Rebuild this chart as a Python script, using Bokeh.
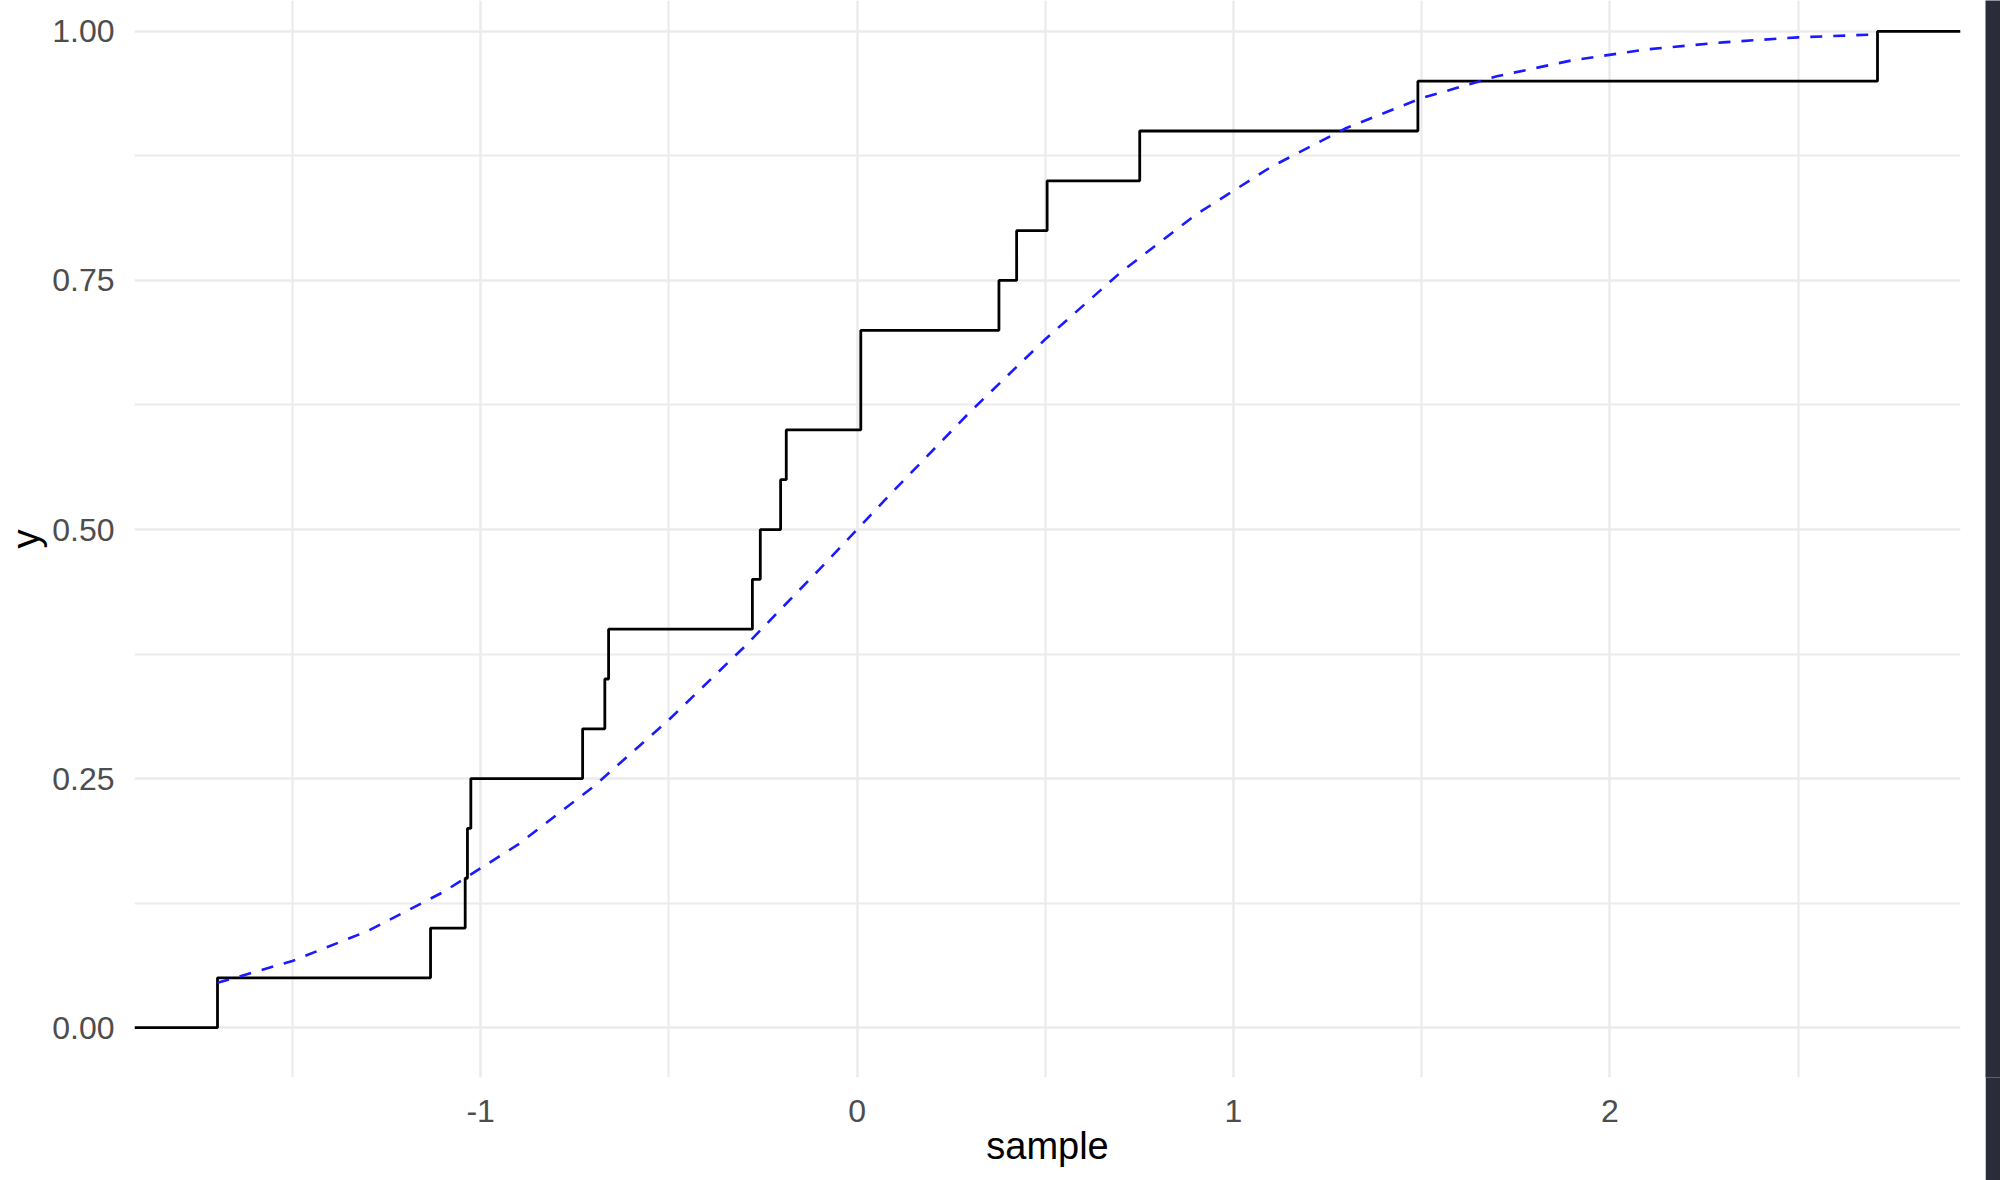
from bokeh.plotting import figure
from bokeh.models import FixedTicker, NumeralTickFormatter, PrintfTickFormatter, Range1d
from bokeh.layouts import row
from bokeh.embed import file_html
from bokeh.resources import INLINE

# ---- data ----
sample = [-1.699, -1.133, -1.041, -1.035, -1.026, -0.729, -0.670, -0.660,
          -0.278, -0.257, -0.203, -0.188, 0.010, 0.010, 0.377, 0.424,
          0.505, 0.751, 1.490, 2.711]

curve_x = [-1.699, -1.5, -1.3, -1.1, -0.9, -0.7, -0.5, -0.3, -0.1, 0.1,
           0.3, 0.5, 0.7, 0.9, 1.1, 1.3, 1.5, 1.7, 1.9, 2.1, 2.3, 2.5, 2.711]
curve_y = [0.045, 0.067, 0.097, 0.136, 0.184, 0.242, 0.309, 0.382, 0.460, 0.540,
           0.618, 0.691, 0.758, 0.816, 0.864, 0.903, 0.933, 0.955, 0.971, 0.982,
           0.989, 0.994, 0.997]

x_major = [-1, 0, 1, 2]
x_minor = [-1.5, -0.5, 0.5, 1.5, 2.5]
y_major = [0, 0.25, 0.5, 0.75, 1.0]
y_minor = [0.125, 0.375, 0.625, 0.875]

# ---- ranges (ggplot-like 5% expansion) ----
xmin, xmax = min(sample), max(sample)
pad = 0.05 * (xmax - xmin)
x_lo, x_hi = xmin - pad, xmax + pad

p = figure(width=1985, height=1180,
           x_range=Range1d(x_lo, x_hi), y_range=Range1d(-0.05, 1.031),
           output_backend="svg", toolbar_location=None,
           min_border_left=134, min_border_right=25,
           min_border_top=0, min_border_bottom=103,
           background_fill_color="white", border_fill_color="white",
           outline_line_color=None)

# ECDF step line
s = sorted(sample)
n = len(s)
step_x = [x_lo] + s + [x_hi]
step_y = [0.0] + [(i + 1) / n for i in range(n)] + [1.0]
p.step(step_x, step_y, mode="after", line_color="black", line_width=2.8)

# theoretical curve
p.line(curve_x, curve_y, line_color="#1a1aff", line_width=2.6,
       line_dash="12 11")

# axes
p.xaxis.ticker = FixedTicker(ticks=x_major, minor_ticks=x_minor)
p.yaxis.ticker = FixedTicker(ticks=y_major, minor_ticks=y_minor)
p.xaxis.formatter = PrintfTickFormatter(format="%d")
p.yaxis.formatter = NumeralTickFormatter(format="0.00")

for ax in p.axis:
    ax.axis_line_color = None
    ax.major_tick_line_color = None
    ax.minor_tick_line_color = None
    ax.major_tick_out = 0
    ax.major_tick_in = 0
    ax.major_label_text_font = "Liberation Sans"
    ax.major_label_text_font_size = "32px"
    ax.major_label_text_color = "#4D4D4D"
    ax.axis_label_text_font = "Liberation Sans"
    ax.axis_label_text_font_size = "38px"
    ax.axis_label_text_font_style = "normal"
    ax.axis_label_text_color = "black"

p.xaxis.axis_label = "sample"
p.yaxis.axis_label = "y"
p.xaxis.major_label_standoff = 18
p.yaxis.major_label_standoff = 16
p.xaxis.axis_label_standoff = 0
p.yaxis.axis_label_standoff = 2

for g in (p.xgrid, p.ygrid):
    g.grid_line_color = "#EBEBEB"
    g.grid_line_width = 2.5
    g.minor_grid_line_color = "#EBEBEB"
    g.minor_grid_line_width = 2.2

# dark strip at the right edge of the screenshot
strip = figure(width=15, height=1180, output_backend="svg", toolbar_location=None,
               min_border=0, background_fill_color="#2a2c3a",
               border_fill_color="#2a2c3a", outline_line_color=None)
strip.axis.visible = False
strip.grid.visible = False

layout = row(p, strip, spacing=0)

open("out.html", "w").write(file_html(layout, INLINE))
